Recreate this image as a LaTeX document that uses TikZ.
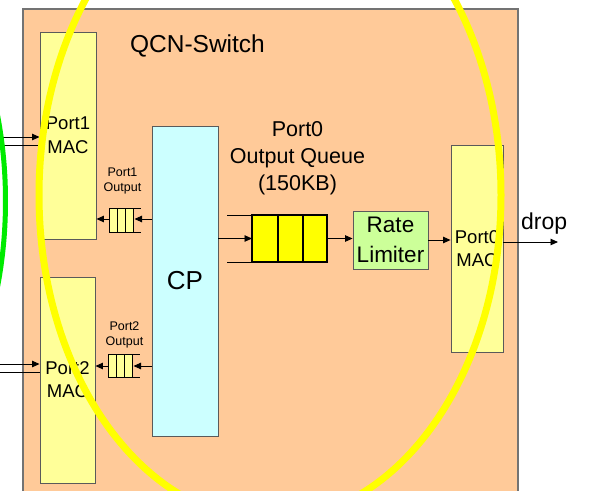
\documentclass[tikz,border=0pt]{standalone}
\usepackage{fontspec}
\setmainfont{Liberation Sans}
\usetikzlibrary{arrows.meta}
\definecolor{swbg}{RGB}{255,202,153}
\definecolor{macfill}{RGB}{255,255,153}
\definecolor{cpfill}{RGB}{204,255,255}
\definecolor{rlfill}{RGB}{204,255,153}
\definecolor{qfill}{RGB}{255,255,0}
\definecolor{ringyellow}{RGB}{255,255,0}
\definecolor{ringgreen}{RGB}{0,235,0}
\definecolor{edgegray}{RGB}{90,90,90}
\definecolor{framegray}{RGB}{115,115,115}
\begin{document}
\begin{tikzpicture}[x=1pt,y=-1pt,
  box/.style={draw=edgegray, line width=0.9pt, inner sep=0pt, align=center},
  arr/.style={-{Triangle[length=7.5pt,width=6.5pt]}, line width=0.9pt},
  plain/.style={line width=0.9pt},
  txt/.style={inner sep=0pt, align=center},
  smallq/.style={draw=black, line width=0.8pt}
]
\clip (0,0) rectangle (589,490);
\fill[white] (0,0) rectangle (589,490);
% switch frame
\draw[draw=framegray, line width=2pt, fill=swbg] (23,9) rectangle (518,505);
\node[txt, font=\fontsize{24.5}{28}\selectfont] (title) at (197.5,46) {QCN-Switch};

% MAC boxes
\node[box, fill=macfill, minimum width=56pt, minimum height=207pt, font=\fontsize{18.5}{24}\selectfont] (p1mac) at (68,135.5) {Port1\\MAC};
\node[box, fill=macfill, minimum width=55pt, minimum height=206pt, font=\fontsize{18.5}{23}\selectfont] (p2mac) at (67.5,380) {Port2\\MAC};
\node[box, fill=macfill, minimum width=52pt, minimum height=207pt, font=\fontsize{18.5}{23}\selectfont] (p0mac) at (477,248.5) {Port0\\MAC};

% CP
\node[box, fill=cpfill, minimum width=66pt, minimum height=310pt, font=\fontsize{26}{30}\selectfont] (cp) at (185,281) {CP};

% rate limiter
\node[box, fill=rlfill, minimum width=75pt, minimum height=58pt, font=\fontsize{22.5}{30}\selectfont] (rl) at (390.5,240) {Rate\\Limiter};

% main output queue
\node[txt, font=\fontsize{21.5}{27}\selectfont] (qlabel) at (297.5,158) {Port0\\Output Queue\\(150KB)};
\node[draw=black, line width=2.5pt, fill=qfill, minimum width=75pt, minimum height=47pt, inner sep=0pt, outer sep=0pt] (q0) at (289.5,238.5) {};
\draw[line width=2.5pt] (278,215) -- (278,262);
\draw[line width=2.5pt] (303,215) -- (303,262);
\coordinate (q0tl) at (227,215);
\coordinate (q0bl) at (227,262);
\draw[plain] (q0tl) -- (q0tl -| q0.west);
\draw[plain] (q0bl) -- (q0bl -| q0.west);

% Port1 output small queue
\node[txt, font=\fontsize{12.5}{15}\selectfont] (q1label) at (122.5,180.5) {Port1\\Output};
\node[fill=macfill, minimum width=24pt, minimum height=24pt, inner sep=0pt] (q1) at (121,220) {};
\draw[smallq] (109,208) -- (141,208) (109,232) -- (141,232)
  (109,208) -- (109,232) (117,208) -- (117,232) (125,208) -- (125,232) (133,208) -- (133,232);
\coordinate (q1in) at (134.5,219);

% Port2 output small queue
\node[txt, font=\fontsize{12.5}{15}\selectfont] (q2label) at (124.5,334.5) {Port2\\Output};
\node[fill=macfill, minimum width=24pt, minimum height=23pt, inner sep=0pt] (q2) at (120,365.5) {};
\draw[smallq] (108,354) -- (140,354) (108,377) -- (140,377)
  (108,354) -- (108,377) (116,354) -- (116,377) (124,354) -- (124,377) (132,354) -- (132,377);
\coordinate (q2in) at (133.5,366);

% connectors
\draw[arr] (cp.west |- q1in) -- (q1in);
\draw[arr] (q1.west |- q1in) -- (p1mac.east |- q1in);
\draw[arr] (cp.west |- q2in) -- (q2in);
\draw[arr] (q2.west |- q2in) -- (p2mac.east |- q2in);
\draw[arr] (cp.east |- q0.west) -- (q0.west);
\draw[arr] (q0.east) -- (rl.west |- q0.east);
\draw[arr] (rl.east) -- (p0mac.west |- rl.east);
\coordinate (dropend) at (558,242);
\draw[arr] (p0mac.east |- dropend) -- (dropend);
\node[txt, font=\fontsize{23}{26}\selectfont, anchor=base west] (droplabel) at (521,229) {drop};

% inputs
\coordinate (in1a) at (0,137);
\coordinate (in1b) at (0,145);
\draw[arr] (in1a) -- (p1mac.west |- in1a);
\draw[plain] (in1b) -- (p1mac.west |- in1b);
\coordinate (in2a) at (0,364);
\coordinate (in2b) at (0,372);
\draw[arr] (in2a) -- (p2mac.west |- in2a);
\draw[plain] (in2b) -- (p2mac.west |- in2b);

% rings
\draw[ringgreen, line width=5pt] (-149.5,201) ellipse [x radius=155pt, y radius=270pt];
\draw[ringyellow, line width=7pt] (270,195) ellipse [x radius=231pt, y radius=325pt];
\end{tikzpicture}
\end{document}
